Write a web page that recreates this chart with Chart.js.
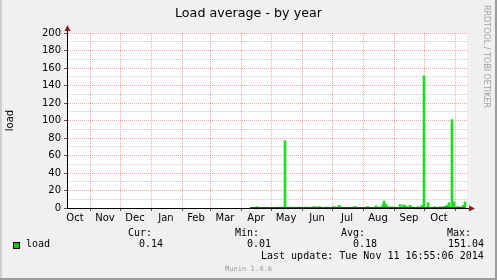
<!DOCTYPE html>
<html lang="en">
<head>
    <meta charset="UTF-8">
    <title>Load average - by year</title>
    <style>
        body {
            margin: 0;
            background: #f0f0f0;
        }
        .frame {
            position: relative;
            width: 497px;
            height: 280px;
            background: #f0f0f0;
            overflow: hidden;
        }
        #chart {
            position: absolute;
            left: 0;
            top: 0;
        }
        .txt {
            position: absolute;
            white-space: pre;
            font-family: 'DejaVu Sans Mono', monospace;
            font-size: 10px;
            line-height: 12px;
            color: #000;
        }
        .title {
            position: absolute;
            left: 0;
            top: 5px;
            width: 497px;
            text-align: center;
            font-family: 'DejaVu Sans', sans-serif;
            font-size: 12.7px;
            line-height: 16px;
            color: #000;
        }
        .rrd {
            position: absolute;
            left: 481px;
            top: 5px;
            writing-mode: vertical-rl;
            font-family: 'DejaVu Sans', sans-serif;
            font-size: 8px;
            line-height: 10px;
            color: #a0a0a0;
        }
        .munin {
            font-size: 7.1px;
            line-height: 8px;
            color: #999;
        }
        .swatch {
            position: absolute;
            left: 13px;
            top: 242px;
            width: 5px;
            height: 5px;
            border: 1px solid #000;
            background: #00cc00;
        }
        .edge { position: absolute; }
    </style>
</head>
<body>
    <div class="frame">
        <canvas id="chart" width="497" height="280"></canvas>
        <div class="title">Load average - by year</div>
        <div class="rrd">RRDTOOL / TOBI OETIKER</div>

        <div class="txt" style="left:128px; top:227px">Cur:</div>
        <div class="txt" style="left:235px; top:227px">Min:</div>
        <div class="txt" style="left:341px; top:227px">Avg:</div>
        <div class="txt" style="left:447px; top:227px">Max:</div>

        <div class="swatch"></div>
        <div class="txt" style="left:26px; top:238px">load</div>
        <div class="txt" id="cur" style="left:139px; top:238px"></div>
        <div class="txt" id="min" style="left:247px; top:238px"></div>
        <div class="txt" id="avg" style="left:353px; top:238px"></div>
        <div class="txt" id="max" style="left:448px; top:238px"></div>

        <div class="txt" style="left:261px; top:250px">Last update: Tue Nov 11 16:55:06 2014</div>
        <div class="txt munin" style="left:225px; top:265px">Munin 1.4.6</div>

        <div class="edge" style="left:0; top:0; width:2px; height:280px; background:#cfcfcf"></div>
        <div class="edge" style="left:495px; top:0; width:2px; height:280px; background:#9c9c9c"></div>
        <div class="edge" style="left:0; top:278px; width:497px; height:2px; background:#9c9c9c"></div>
    </div>

    <script src="https://cdn.jsdelivr.net/npm/chart.js@4"></script>
    <script>
        // graph window starts here (left edge of the plot), one pixel per day
        const startDate = '2013-10-09';
        const spanDays = 400;

        const monthStarts = ['2013-11-01', '2013-12-01', '2014-01-01', '2014-02-01', '2014-03-01', '2014-04-01',
            '2014-05-01', '2014-06-01', '2014-07-01', '2014-08-01', '2014-09-01', '2014-10-01', '2014-11-01'];
        const monthLabels = ['Oct', 'Nov', 'Dec', 'Jan', 'Feb', 'Mar', 'Apr', 'May', 'Jun', 'Jul', 'Aug', 'Sep', 'Oct'];
        const monthLabelDates = ['2013-10-17', '2013-11-16', '2013-12-16', '2014-01-16', '2014-02-15', '2014-03-16',
            '2014-04-16', '2014-05-16', '2014-06-16', '2014-07-16', '2014-08-16', '2014-09-16', '2014-10-16'];

        // daily load peaks
        const loadDates = ['2014-04-17', '2014-04-24', '2014-05-08', '2014-05-13', '2014-05-15', '2014-05-17',
            '2014-05-22', '2014-05-24', '2014-05-28', '2014-05-30', '2014-06-04', '2014-06-06', '2014-06-12',
            '2014-06-14', '2014-06-15', '2014-06-18', '2014-06-19', '2014-06-25', '2014-06-27', '2014-07-02',
            '2014-07-04', '2014-07-08', '2014-07-10', '2014-07-16', '2014-07-23', '2014-07-24', '2014-07-25',
            '2014-08-05', '2014-08-06', '2014-08-14', '2014-08-16', '2014-08-20', '2014-08-21', '2014-08-22',
            '2014-08-24', '2014-08-26', '2014-08-30', '2014-09-02', '2014-09-07', '2014-09-10', '2014-09-12',
            '2014-09-14', '2014-09-17', '2014-09-19', '2014-09-25', '2014-09-29', '2014-10-01', '2014-10-05',
            '2014-10-12', '2014-10-17', '2014-10-20', '2014-10-22', '2014-10-24', '2014-10-26', '2014-10-29',
            '2014-10-31', '2014-11-03', '2014-11-05', '2014-11-09', '2014-11-11'];
        const loadValues = [1.5, 1, 1, 1, 77, 1,
            1, 1, 1, 1, 1, 1, 1.5,
            1.5, 1, 1.5, 1.5, 1, 1, 1.5,
            1.5, 3, 1.5, 1, 1.5, 1.5, 1.5,
            1.5, 1.5, 2.5, 1, 2, 4, 8,
            4.5, 1.5, 1.5, 1, 4, 3.5, 3,
            1.5, 3, 1.5, 1.5, 3, 151.04, 6,
            1.5, 1.5, 1.5, 2, 3, 6, 101,
            7, 1.5, 1.5, 3, 7];

        // low background load between the peaks
        const baseDates = ['2014-04-10', '2014-11-11'];
        const baseValues = [0.4, 0.4];

        const stats = { cur: '0.14', min: '0.01', avg: '0.18', max: '151.04' };
        document.getElementById('cur').textContent = stats.cur;
        document.getElementById('min').textContent = stats.min;
        document.getElementById('avg').textContent = stats.avg;
        document.getElementById('max').textContent = stats.max;

        function dayOf(d) {
            return (Date.parse(d) - Date.parse(startDate)) / 86400000;
        }

        const gridDays = monthStarts.map(dayOf);
        const labelDays = monthLabelDates.map(dayOf);

        const majorGrid = 'rgba(255, 0, 0, 0.36)';
        const minorGrid = 'rgba(128, 128, 128, 0.4)';
        const none = 'rgba(0, 0, 0, 0)';

        const isMonthStart = ctx => !!ctx.tick && gridDays.includes(ctx.tick.value);
        const isMajorY = ctx => !ctx.tick || ctx.tick.value % 20 === 0;

        Chart.defaults.font.family = "'DejaVu Sans', sans-serif";
        Chart.defaults.font.size = 10;
        Chart.defaults.color = '#000';

        const plotBackground = {
            id: 'plotBackground',
            beforeDraw(chart) {
                const a = chart.chartArea;
                const ctx = chart.ctx;
                ctx.save();
                ctx.fillStyle = '#fff';
                ctx.fillRect(a.left, a.top, a.right - a.left, a.bottom - a.top);
                ctx.restore();
            },
            afterDraw(chart) {
                const a = chart.chartArea;
                const ctx = chart.ctx;
                const x0 = Math.round(a.left) + 0.5;
                const y0 = Math.round(a.bottom) + 0.5;
                ctx.save();
                ctx.strokeStyle = '#000';
                ctx.lineWidth = 1;
                ctx.beginPath();
                ctx.moveTo(x0, a.top);
                ctx.lineTo(x0, a.top - 4);
                ctx.moveTo(a.right, y0);
                ctx.lineTo(a.right + 3, y0);
                ctx.stroke();
                // arrow heads
                ctx.fillStyle = '#8a1c1c';
                ctx.beginPath();
                ctx.moveTo(x0, a.top - 8);
                ctx.lineTo(x0 - 3, a.top - 2);
                ctx.lineTo(x0 + 3, a.top - 2);
                ctx.closePath();
                ctx.fill();
                ctx.beginPath();
                ctx.moveTo(a.right + 8, y0);
                ctx.lineTo(a.right + 2, y0 - 3);
                ctx.lineTo(a.right + 2, y0 + 3);
                ctx.closePath();
                ctx.fill();
                ctx.restore();
            }
        };

        new Chart(document.getElementById('chart'), {
            type: 'bar',
            data: {
                datasets: [{
                    type: 'line',
                    data: baseDates.map((d, i) => ({ x: dayOf(d), y: baseValues[i] })),
                    borderColor: '#006a00',
                    borderWidth: 1.5,
                    pointRadius: 0,
                    fill: false
                }, {
                    data: loadDates.map((d, i) => ({ x: dayOf(d), y: loadValues[i] })),
                    backgroundColor: '#1edc1e',
                    barThickness: 2,
                    borderWidth: 0
                }]
            },
            options: {
                responsive: false,
                animation: false,
                events: [],
                layout: { padding: { left: 0, right: 30, top: 33, bottom: 0 } },
                plugins: {
                    legend: { display: false },
                    tooltip: { enabled: false }
                },
                scales: {
                    x: {
                        type: 'linear',
                        offset: false,
                        min: 0,
                        max: spanDays,
                        afterFit(scale) { scale.height = 72; },
                        afterBuildTicks(scale) {
                            scale.ticks = gridDays.concat(labelDays)
                                .sort((a, b) => a - b)
                                .map(v => ({ value: v }));
                        },
                        grid: {
                            offset: false,
                            color: ctx => isMonthStart(ctx) ? majorGrid : none,
                            tickColor: ctx => isMonthStart(ctx) ? '#555' : none,
                            tickLength: 3,
                            lineWidth: 1
                        },
                        border: { display: true, color: '#000', width: 1, dash: [1, 1] },
                        ticks: {
                            autoSkip: false,
                            maxRotation: 0,
                            padding: 1,
                            callback: v => {
                                const i = labelDays.indexOf(v);
                                return i >= 0 ? monthLabels[i] : '';
                            }
                        }
                    },
                    y: {
                        min: 0,
                        max: 200,
                        afterFit(scale) { scale.width = 67; },
                        title: { display: true, text: 'load', font: { size: 10 }, padding: { top: 4, bottom: 0 } },
                        grid: {
                            color: ctx => isMajorY(ctx) ? majorGrid : minorGrid,
                            tickColor: ctx => ctx.tick && ctx.tick.value % 20 === 0 ? '#555' : none,
                            tickLength: 3,
                            lineWidth: 1
                        },
                        border: { display: true, color: '#000', width: 1, dash: [1, 1] },
                        ticks: {
                            stepSize: 10,
                            autoSkip: false,
                            padding: 3,
                            callback: v => v % 20 === 0 ? v : ''
                        }
                    }
                }
            },
            plugins: [plotBackground]
        });
    </script>
</body>
</html>
